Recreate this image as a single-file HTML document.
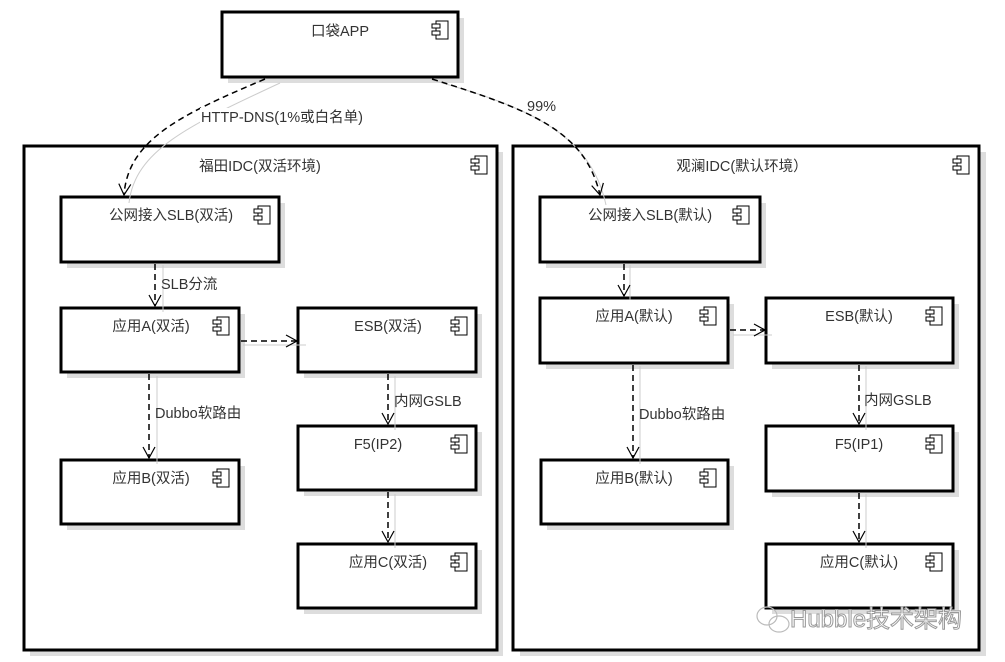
<!DOCTYPE html>
<html><head><meta charset="utf-8"><style>
html,body{margin:0;padding:0;background:#fff;}
svg{display:block;}
text{font-family:"Liberation Sans","Noto Sans CJK SC",sans-serif;font-size:14.5px;fill:#333;}
</style></head><body>
<svg width="1005" height="662" viewBox="0 0 1005 662" xmlns="http://www.w3.org/2000/svg">
<defs>
<g id="ic"><rect x="0" y="0" width="12" height="18" fill="#fff" stroke="#000" stroke-width="1"/><rect x="-4" y="3" width="8" height="4" fill="#fff" stroke="#000"/><rect x="-4" y="10" width="8" height="4" fill="#fff" stroke="#000"/></g>
<marker id="ah" markerWidth="16" markerHeight="16" refX="12" refY="8" orient="auto" markerUnits="userSpaceOnUse"><path d="M1,2 L12,8 L1,14" fill="none" stroke="#000" stroke-width="1.2"/></marker>
</defs>
<rect x="30" y="152" width="473" height="504" fill="#ddd"/>
<rect x="24" y="146" width="473" height="504" fill="#fff" stroke="#000" stroke-width="3"/>
<use href="#ic" x="475" y="156"/>
<text x="260" y="171" text-anchor="middle">福田IDC(双活环境)</text>
<rect x="520" y="152" width="466" height="504" fill="#ddd"/>
<rect x="513" y="146" width="466" height="504" fill="#fff" stroke="#000" stroke-width="3"/>
<use href="#ic" x="957" y="156"/>
<text x="742" y="171" text-anchor="middle">观澜IDC(默认环境）</text>

<g>
<rect x="228" y="18" width="236" height="65" fill="#ddd"/><rect x="222" y="12" width="236" height="65" fill="#fff" stroke="#000" stroke-width="3"/><use href="#ic" x="436" y="21"/><text x="340" y="36" text-anchor="middle">口袋APP</text>

<rect x="67" y="203" width="218" height="65" fill="#ddd"/><rect x="61" y="197" width="218" height="65" fill="#fff" stroke="#000" stroke-width="3"/><use href="#ic" x="258" y="206"/><text x="171" y="220" text-anchor="middle">公网接入SLB(双活)</text>
<rect x="67" y="314" width="178" height="64" fill="#ddd"/><rect x="61" y="308" width="178" height="64" fill="#fff" stroke="#000" stroke-width="3"/><use href="#ic" x="217" y="317"/><text x="151" y="331" text-anchor="middle">应用A(双活)</text>
<rect x="304" y="314" width="178" height="64" fill="#ddd"/><rect x="298" y="308" width="178" height="64" fill="#fff" stroke="#000" stroke-width="3"/><use href="#ic" x="455" y="317"/><text x="388" y="331" text-anchor="middle">ESB(双活)</text>
<rect x="67" y="466" width="178" height="64" fill="#ddd"/><rect x="61" y="460" width="178" height="64" fill="#fff" stroke="#000" stroke-width="3"/><use href="#ic" x="217" y="469"/><text x="151" y="483" text-anchor="middle">应用B(双活)</text>
<rect x="304" y="432" width="178" height="64" fill="#ddd"/><rect x="298" y="426" width="178" height="64" fill="#fff" stroke="#000" stroke-width="3"/><use href="#ic" x="455" y="435"/><text x="378" y="449" text-anchor="middle">F5(IP2)</text>
<rect x="304" y="550" width="178" height="64" fill="#ddd"/><rect x="298" y="544" width="178" height="64" fill="#fff" stroke="#000" stroke-width="3"/><use href="#ic" x="455" y="553"/><text x="388" y="567" text-anchor="middle">应用C(双活)</text>

<rect x="546" y="203" width="220" height="65" fill="#ddd"/><rect x="540" y="197" width="220" height="65" fill="#fff" stroke="#000" stroke-width="3"/><use href="#ic" x="737" y="206"/><text x="650" y="220" text-anchor="middle">公网接入SLB(默认)</text>
<rect x="546" y="304" width="188" height="65" fill="#ddd"/><rect x="540" y="298" width="188" height="65" fill="#fff" stroke="#000" stroke-width="3"/><use href="#ic" x="704" y="307"/><text x="634" y="321" text-anchor="middle">应用A(默认)</text>
<rect x="772" y="304" width="187" height="65" fill="#ddd"/><rect x="766" y="298" width="187" height="65" fill="#fff" stroke="#000" stroke-width="3"/><use href="#ic" x="930" y="307"/><text x="859" y="321" text-anchor="middle">ESB(默认)</text>
<rect x="547" y="466" width="187" height="64" fill="#ddd"/><rect x="541" y="460" width="187" height="64" fill="#fff" stroke="#000" stroke-width="3"/><use href="#ic" x="704" y="469"/><text x="634" y="483" text-anchor="middle">应用B(默认)</text>
<rect x="772" y="432" width="187" height="65" fill="#ddd"/><rect x="766" y="426" width="187" height="65" fill="#fff" stroke="#000" stroke-width="3"/><use href="#ic" x="930" y="435"/><text x="859" y="449" text-anchor="middle">F5(IP1)</text>
<rect x="772" y="550" width="187" height="64" fill="#ddd"/><rect x="766" y="544" width="187" height="64" fill="#fff" stroke="#000" stroke-width="3"/><use href="#ic" x="930" y="553"/><text x="859" y="567" text-anchor="middle">应用C(默认)</text>
</g>

<g fill="none" stroke="#ccc" stroke-width="1">
<path d="M280,83 C190,125 135,150 129,203"/>
<path d="M432,80 C520,105 590,130 606,205"/>
<path d="M163,265 L163,312"/><path d="M243,345 L306,345"/><path d="M157,376 L157,464"/>
<path d="M395,376 L395,430"/><path d="M395,494 L395,548"/>
<path d="M630,265 L630,300"/><path d="M733,335 L772,335"/><path d="M640,366 L640,464"/>
<path d="M866,366 L866,430"/><path d="M866,494 L866,548"/>
</g>
<g fill="none" stroke="#000" stroke-width="1.5" stroke-dasharray="6,4" marker-end="url(#ah)">
<path d="M265,79 C180,115 128,140 124,195"/>
<path d="M432,79 C530,110 585,130 600,195"/>
<path d="M155,264 L155,306"/>
<path d="M241,341 L297,341"/>
<path d="M149,374 L149,458"/>
<path d="M388,374 L388,424"/>
<path d="M388,492 L388,542"/>
<path d="M624,264 L624,296"/>
<path d="M730,330 L765,330"/>
<path d="M633,365 L633,458"/>
<path d="M859,365 L859,424"/>
<path d="M859,493 L859,542"/>
</g>
<rect x="200" y="108" width="178" height="17" fill="#fff"/>
<text x="201" y="122">HTTP-DNS(1%或白名单)</text>
<text x="527" y="111">99%</text>
<text x="161" y="289">SLB分流</text>
<text x="155" y="418">Dubbo软路由</text>
<text x="394" y="406">内网GSLB</text>
<text x="639" y="419">Dubbo软路由</text>
<text x="864" y="405">内网GSLB</text>
<g fill="none" stroke="#bbb" stroke-width="1.2">
<ellipse cx="767" cy="616" rx="10" ry="9"/><ellipse cx="779" cy="624" rx="10" ry="8"/>
</g>
<text x="790" y="627" style="font-size:24px;fill:#fff;stroke:#999;stroke-width:1">Hubble技术架构</text>
</svg>
</body></html>
